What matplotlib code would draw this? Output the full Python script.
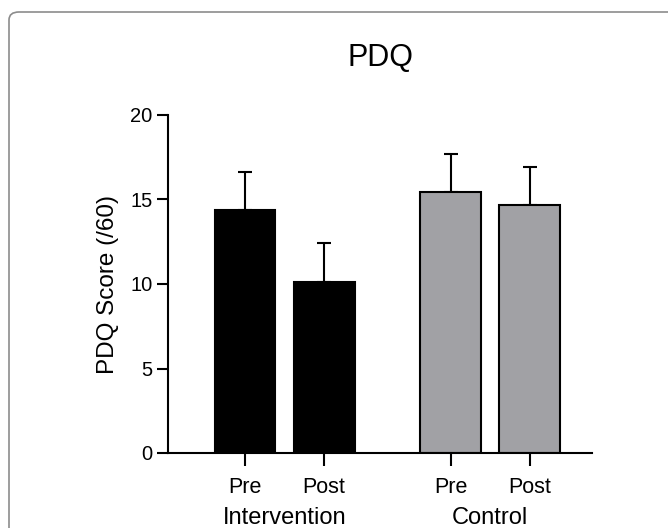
import numpy as np
import matplotlib
matplotlib.use("Agg")
import matplotlib.pyplot as plt
from matplotlib.patches import FancyBboxPatch

plt.rcParams['font.family'] = ['Liberation Sans', 'DejaVu Sans']

# data
groups = ["Intervention", "Control"]
tick_labels = ["Pre", "Post", "Pre", "Post"]
means = [14.4, 10.1, 15.45, 14.65]
sd_up = [2.2, 2.3, 2.25, 2.25]
colors = ["black", "black", "#a1a1a5", "#a1a1a5"]

pos = np.array([1.0, 2.0, 3.6, 4.6])
group_pos = [1.5, 4.1]

fig = plt.figure(figsize=(6.68, 5.28), dpi=100)

# rounded frame around the figure
frame = FancyBboxPatch((9 / 668, -0.1), 1.2, 1.1 - 12 / 528,
                       boxstyle="round,pad=0,rounding_size=0.015",
                       transform=fig.transFigure, fill=False,
                       edgecolor="#8c8c8c", linewidth=1.2)
fig.patches.append(frame)

ax = fig.add_axes([168 / 668, 1 - 453 / 528, 424 / 668, 338 / 528])

ax.bar(pos, means, width=0.77, color=colors, edgecolor="black", linewidth=1.5, zorder=2)
ax.errorbar(pos, means, yerr=[np.zeros(4), sd_up], fmt="none", ecolor="black",
            elinewidth=1.5, capsize=5, capthick=1.5, zorder=1)

ax.set_xlim(0.025, 5.39)
ax.set_ylim(0, 20)
ax.set_yticks([0, 5, 10, 15, 20])
ax.set_xticks(pos)
ax.set_xticklabels(tick_labels)

for s in ["top", "right"]:
    ax.spines[s].set_visible(False)
for s in ["left", "bottom"]:
    ax.spines[s].set_linewidth(1.5)

ax.tick_params(axis="y", length=8, width=1.5, labelsize=14.5, pad=3)
ax.tick_params(axis="x", length=9, width=1.5, labelsize=15.5, pad=8)

ax.set_ylabel("PDQ Score (/60)", fontsize=17.5, labelpad=8)
ax.set_title("PDQ", fontsize=22, pad=35)

for g, gx in zip(groups, group_pos):
    ax.text(gx, -0.193, g, transform=ax.get_xaxis_transform(), ha="center",
            va="center", fontsize=17)

fig.savefig("out.png", dpi=100)
